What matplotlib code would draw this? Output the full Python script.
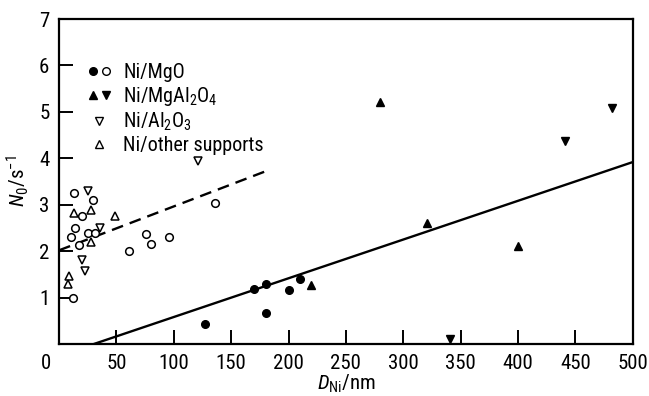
import matplotlib
matplotlib.use("Agg")
import matplotlib.pyplot as plt
from matplotlib.lines import Line2D
from matplotlib.legend_handler import HandlerTuple

plt.rcParams['font.family'] = ['Roboto Condensed', 'DejaVu Sans']
plt.rcParams['mathtext.fontset'] = 'custom'
plt.rcParams['mathtext.rm'] = 'Roboto Condensed'
plt.rcParams['mathtext.it'] = 'Roboto Condensed:italic'

# Ni/MgO, filled and open
mgo_fill_x = [127, 170, 180, 180, 200, 210]
mgo_fill_y = [0.44, 1.19, 1.30, 0.68, 1.16, 1.40]
mgo_open_x = [13, 30, 20, 14, 10, 17, 25, 31, 12, 61, 76, 80, 96, 136]
mgo_open_y = [3.25, 3.11, 2.75, 2.50, 2.31, 2.14, 2.40, 2.40, 1.00, 2.00, 2.38, 2.16, 2.30, 3.04]

# Ni/MgAl2O4
spinel_up_x = [220, 280, 321, 400]
spinel_up_y = [1.28, 5.22, 2.60, 2.11]
spinel_dn_x = [341, 441, 482]
spinel_dn_y = [0.11, 4.38, 5.08]

# Ni/Al2O3
alu_x = [25, 36, 20, 23, 121]
alu_y = [3.30, 2.50, 1.82, 1.57, 3.95]

# Ni/other supports
other_x = [13, 28, 28, 49, 9, 8]
other_y = [2.82, 2.89, 2.20, 2.75, 1.46, 1.30]

# trend lines
dash_x = [0, 183]
dash_y = [2.02, 3.75]
solid_x = [30, 500]
solid_y = [0.0, 3.92]

fig = plt.figure(figsize=(6.49, 3.96), dpi=100)
ax = fig.add_axes([0.091, 0.131, 0.884, 0.821])

ax.plot(dash_x, dash_y, color='black', lw=1.7, ls=(0, (5, 3)))
ax.plot(solid_x, solid_y, color='black', lw=1.7)

ms = 5.5
ax.plot(mgo_fill_x, mgo_fill_y, 'o', color='black', ms=ms)
ax.plot(mgo_open_x, mgo_open_y, 'o', mfc='white', mec='black', mew=1.1, ms=ms)
ax.plot(spinel_up_x, spinel_up_y, '^', color='black', ms=ms)
ax.plot(spinel_dn_x, spinel_dn_y, 'v', color='black', ms=ms)
ax.plot(alu_x, alu_y, 'v', mfc='white', mec='black', mew=1.1, ms=ms)
ax.plot(other_x, other_y, '^', mfc='white', mec='black', mew=1.1, ms=ms)

ax.set_xlim(0, 500)
ax.set_ylim(0, 7)
ax.set_xticks(range(50, 501, 50))
ax.set_yticks(range(1, 8))
ax.tick_params(direction='in', length=10, width=1.4, labelsize=15, pad=7)
for s in ax.spines.values():
    s.set_linewidth(1.6)
ax.text(-0.022, -0.03, '0', transform=ax.transAxes, ha='center', va='top', fontsize=15)

ax.set_xlabel(r'$D_{\mathrm{Ni}}$/nm', fontsize=15, labelpad=0)
ax.set_ylabel(r'$N_0$/s$^{-1}$', fontsize=15, labelpad=6)

# legend
h_fill = Line2D([], [], ls='none', marker='o', color='black', ms=ms)
h_open = Line2D([], [], ls='none', marker='o', mfc='white', mec='black', ms=ms)
h_up = Line2D([], [], ls='none', marker='^', color='black', ms=ms)
h_dn = Line2D([], [], ls='none', marker='v', color='black', ms=ms)
h_alu = Line2D([], [], ls='none', marker='v', mfc='white', mec='black', ms=ms)
h_oth = Line2D([], [], ls='none', marker='^', mfc='white', mec='black', ms=ms)
ax.legend([(h_fill, h_open), (h_up, h_dn), h_alu, h_oth],
          ['Ni/MgO', r'Ni/MgAl$_2$O$_4$', r'Ni/Al$_2$O$_3$', 'Ni/other supports'],
          handler_map={tuple: HandlerTuple(ndivide=None, pad=0.1)},
          loc='upper left', bbox_to_anchor=(0.035, 0.89), frameon=False,
          fontsize=14.5, handlelength=1.2, handletextpad=0.6, labelspacing=0.15,
          borderaxespad=0)

fig.savefig('out.png', dpi=100)
